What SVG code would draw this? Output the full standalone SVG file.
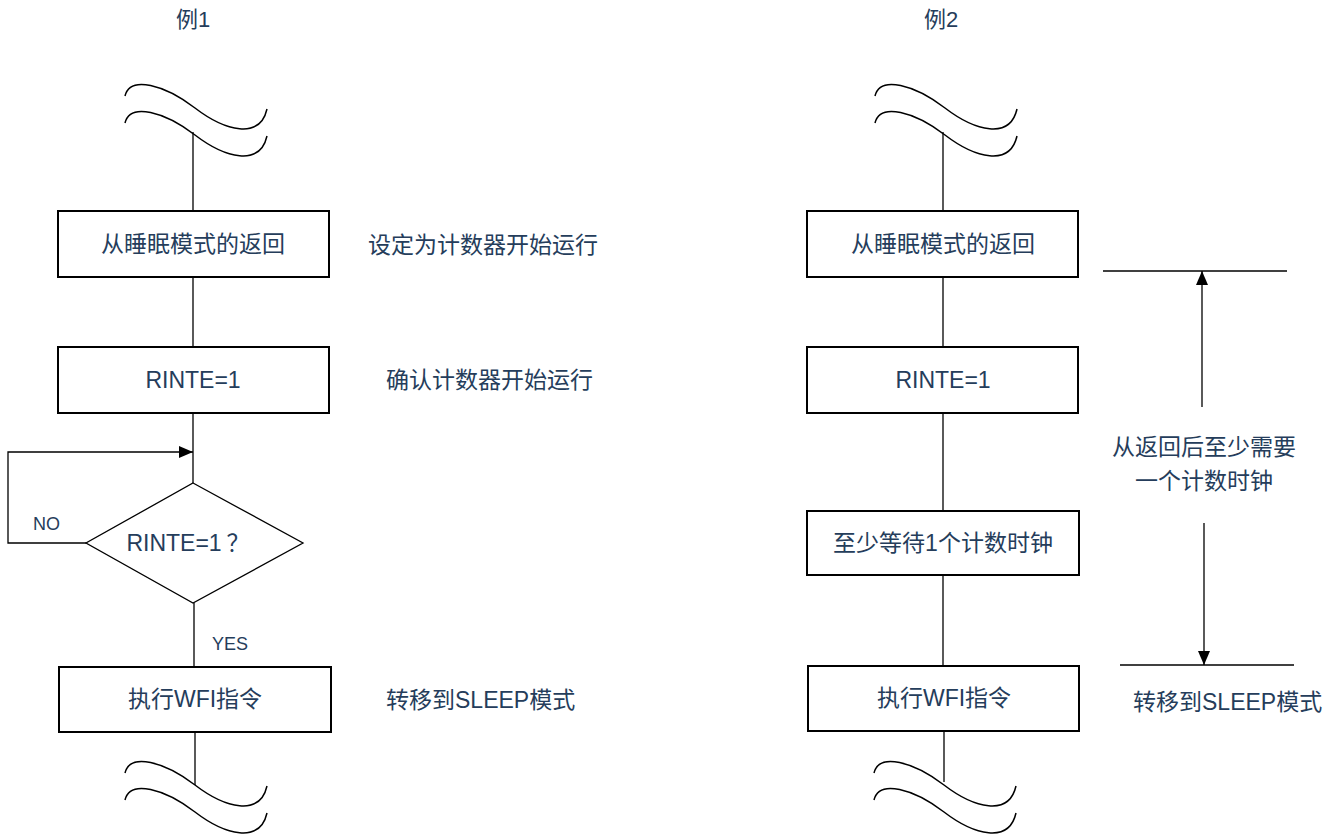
<svg xmlns="http://www.w3.org/2000/svg" width="1339" height="835" viewBox="0 0 1339 835">
<defs>
<style>
text{font-family:"Liberation Sans","Noto Sans CJK SC",sans-serif;font-size:23px;fill:#253d5b}
.c{text-anchor:middle}
.s{font-size:18px}
.box{fill:#fff;stroke:#000;stroke-width:2}
.ln{fill:none;stroke:#000;stroke-width:1.3}
.wave{fill:none;stroke:#000;stroke-width:1.5}
</style>
<marker id="ah" viewBox="0 0 14 12" refX="14" refY="6" markerWidth="14" markerHeight="12" markerUnits="userSpaceOnUse" orient="auto">
<path d="M0,0 L14,6 L0,12 Z" fill="#000"/>
</marker>
<path id="w" class="wave" d="M125,96 C130,75 165,85 195,108 C225,131 260,140 267,109"/>
</defs>
<rect width="1339" height="835" fill="#fff"/>
<text class="c" x="193" y="27" style="font-size:22px">例1</text>
<text class="c" x="941" y="27" style="font-size:22px">例2</text>
<g id="connectors">
<line class="ln" x1="193" y1="132" x2="193" y2="211"/>
<line class="ln" x1="193" y1="277" x2="193" y2="347"/>
<line class="ln" x1="193" y1="413" x2="193" y2="483"/>
<polyline class="ln" points="86,543 8,543 8,452 193,452" marker-end="url(#ah)"/>
<line class="ln" x1="194" y1="603" x2="194" y2="667"/>
<line class="ln" x1="195" y1="732" x2="195" y2="785"/>
<line class="ln" x1="943" y1="132" x2="943" y2="211"/>
<line class="ln" x1="943" y1="277" x2="943" y2="347"/>
<line class="ln" x1="943" y1="413" x2="943" y2="511"/>
<line class="ln" x1="943" y1="575" x2="943" y2="666"/>
<line class="ln" x1="944" y1="731" x2="944" y2="782"/>
<line class="ln" x1="1103" y1="271" x2="1287" y2="271"/>
<line class="ln" x1="1202" y1="407" x2="1202" y2="271" marker-end="url(#ah)"/>
<line class="ln" x1="1204" y1="523" x2="1204" y2="665" marker-end="url(#ah)"/>
<line class="ln" x1="1120" y1="665" x2="1294" y2="665"/>
</g>
<g id="break-top-1"><use href="#w"/><use href="#w" y="27"/></g>
<g id="break-bottom-1"><use href="#w" y="677"/><use href="#w" y="704"/></g>
<g id="break-top-2"><use href="#w" x="750"/><use href="#w" x="750" y="27"/></g>
<g id="break-bottom-2"><use href="#w" x="749" y="677"/><use href="#w" x="749" y="704"/></g>
<g id="n1"><rect class="box" x="58" y="211" width="271" height="66"/><text class="c" x="193" y="252">从睡眠模式的返回</text></g>
<g id="n2"><rect class="box" x="58" y="347" width="271" height="66"/><text class="c" x="193" y="388">RINTE=1</text></g>
<g id="n3"><polygon class="ln" points="193,483 303,543 193,603 86,543" fill="#fff"/><text class="c" x="188" y="551">RINTE=1<tspan dx="5">？</tspan></text></g>
<g id="n4"><rect class="box" x="59" y="667" width="272" height="65"/><text class="c" x="195" y="707">执行WFI指令</text></g>
<text class="s" x="33" y="530">NO</text>
<text class="c s" x="230" y="650">YES</text>
<text x="368" y="253">设定为计数器开始运行</text>
<text x="386" y="388">确认计数器开始运行</text>
<text x="386" y="708">转移到SLEEP模式</text>
<g id="m1"><rect class="box" x="807" y="211" width="271" height="66"/><text class="c" x="943" y="252">从睡眠模式的返回</text></g>
<g id="m2"><rect class="box" x="807" y="347" width="271" height="66"/><text class="c" x="943" y="388">RINTE=1</text></g>
<g id="m3"><rect class="box" x="807" y="511" width="272" height="64"/><text class="c" x="943" y="551">至少等待1个计数时钟</text></g>
<g id="m4"><rect class="box" x="808" y="666" width="271" height="65"/><text class="c" x="944" y="706">执行WFI指令</text></g>
<text class="c" x="1204" y="455">从返回后至少需要</text>
<text class="c" x="1204" y="489">一个计数时钟</text>
<text x="1133" y="710">转移到SLEEP模式</text>
</svg>
